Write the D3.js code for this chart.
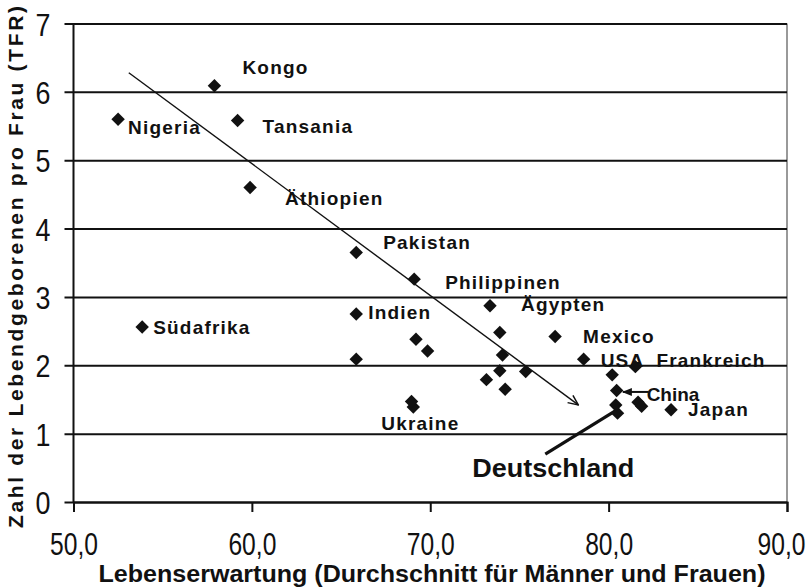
<!DOCTYPE html>
<html>
<head>
<meta charset="utf-8">
<script src="https://cdn.jsdelivr.net/npm/d3@7"></script>
<style>
  body { margin: 0; background: #fff; }
  svg { display: block; font-family: "Liberation Sans", Arial, sans-serif; }
</style>
</head>
<body>
<svg width="810" height="587"></svg>
<script>
// countries (empty name = unlabelled point)
const countries = ['Kongo', 'Nigeria', 'Tansania', 'Äthiopien', 'Pakistan', 'Philippinen', 'Ägypten',
  'Indien', 'Südafrika', 'Mexico', 'USA', 'Frankreich', 'China', 'Japan', 'Ukraine', 'Deutschland',
  '', '', '', '', '', '', '', '', '', '', '', '', '', '']
const lifeExpectancy = [57.9, 52.5, 59.2, 59.9, 65.85, 69.1, 73.35, 65.85, 53.85, 77.0, 78.6, 81.5, 80.45, 83.5, 69.05, 80.5,
  68.95, 80.4, 73.9, 74.05, 73.9, 73.15, 75.35, 74.2, 69.2, 69.85, 65.85, 80.2, 81.65, 81.85]
const fertility = [6.09, 5.60, 5.58, 4.60, 3.65, 3.26, 2.87, 2.75, 2.56, 2.42, 2.09, 1.98, 1.63, 1.35, 1.39, 1.30,
  1.47, 1.42, 2.48, 2.15, 1.92, 1.79, 1.91, 1.65, 2.38, 2.21, 2.09, 1.86, 1.46, 1.40]

const xTicks = [50, 60, 70, 80, 90]
const yTicks = [0, 1, 2, 3, 4, 5, 6, 7]
const trendArrow = [[53.1, 6.28], [78.3, 1.42]]
const chinaArrow = [[82.25, 1.61], [80.8, 1.61]]
const germanyLine = [[76.45, 0.70], [80.35, 1.33]]

const xTitle = 'Lebenserwartung (Durchschnitt für Männer und Frauen)'
const yTitle = 'Zahl der Lebendgeborenen pro Frau (TFR)'

// label offsets in px from the point
const labelOffset = {
  'Kongo': [28, -12], 'Nigeria': [10, 15], 'Tansania': [25, 12], 'Äthiopien': [35, 17],
  'Pakistan': [27, -3], 'Philippinen': [31, 10], 'Ägypten': [31, 5], 'Indien': [12, 5],
  'Südafrika': [11, 7], 'Mexico': [28, 6], 'USA': [17, 8], 'Frankreich': [21, 0],
  'China': [30, 10], 'Japan': [17, 6], 'Ukraine': [-32, 23]
}

const svg = d3.select('svg')
const margin = { top: 23.5, right: 23, bottom: 85, left: 73.5 }
const width = +svg.attr('width') - margin.left - margin.right
const height = +svg.attr('height') - margin.top - margin.bottom

const x = d3.scaleLinear().domain([50, 90]).range([0, width])
const y = d3.scaleLinear().domain([0, 7]).range([height, 0])

const g = svg.append('g').attr('transform', `translate(${margin.left},${margin.top})`)

// right border
g.append('line')
  .attr('x1', width).attr('x2', width)
  .attr('y1', 0).attr('y2', height)
  .attr('stroke', '#777').attr('stroke-width', 1.5)

// gridlines + y axis
const yAxis = g.append('g')
  .call(d3.axisLeft(y).tickValues(yTicks).tickSize(-width).tickFormat(d3.format('d')).tickPadding(23))
yAxis.select('.domain').remove()
yAxis.selectAll('.tick line').attr('stroke', '#111').attr('stroke-width', 2).attr('x1', -9)
yAxis.selectAll('.tick text')
  .attr('font-size', 32).attr('fill', '#111')
  .attr('x', 0).attr('transform', 'translate(-23,0) scale(0.84,1)')
  .attr('dy', '0.36em')

g.append('line')
  .attr('x1', 0).attr('x2', 0).attr('y1', 0).attr('y2', height)
  .attr('stroke', '#111').attr('stroke-width', 2)

// x axis
const xAxis = g.append('g')
  .attr('transform', `translate(0,${height})`)
  .call(d3.axisBottom(x).tickValues(xTicks).tickSize(10).tickFormat(d => d3.format('.1f')(d).replace('.', ',')).tickPadding(20))
xAxis.select('.domain').attr('stroke', '#111').attr('stroke-width', 2)
xAxis.selectAll('.tick line').attr('stroke', '#111').attr('stroke-width', 2)
xAxis.selectAll('.tick text')
  .attr('font-size', 32).attr('fill', '#111')
  .attr('dy', '0.71em')
  .attr('transform', d => `translate(${d === 90 ? -6 : 0},0) scale(0.77,1)`)

// markers
const defs = svg.append('defs')
defs.append('marker')
  .attr('id', 'openArrow').attr('viewBox', '0 0 12 12')
  .attr('refX', 11).attr('refY', 6).attr('markerWidth', 12).attr('markerHeight', 12)
  .attr('markerUnits', 'userSpaceOnUse').attr('orient', 'auto')
  .append('path').attr('d', 'M1,1.5 L11,6 L1,10.5').attr('fill', 'none').attr('stroke', '#111').attr('stroke-width', 1.5)
defs.append('marker')
  .attr('id', 'solidArrow').attr('viewBox', '0 0 10 10')
  .attr('refX', 9).attr('refY', 5).attr('markerWidth', 10).attr('markerHeight', 10)
  .attr('markerUnits', 'userSpaceOnUse').attr('orient', 'auto')
  .append('path').attr('d', 'M0,1 L10,5 L0,9 Z').attr('fill', '#111')

const line = d3.line().x(d => x(d[0])).y(d => y(d[1]))

g.append('path').attr('d', line(trendArrow))
  .attr('stroke', '#111').attr('stroke-width', 1.4).attr('fill', 'none')
  .attr('marker-end', 'url(#openArrow)')

g.append('path').attr('d', line(chinaArrow))
  .attr('stroke', '#111').attr('stroke-width', 2).attr('fill', 'none')
  .attr('marker-end', 'url(#solidArrow)')

g.append('path').attr('d', line(germanyLine))
  .attr('stroke', '#111').attr('stroke-width', 3.2).attr('fill', 'none')

// points
const points = countries.map((c, i) => ({ name: c, life: lifeExpectancy[i], tfr: fertility[i] }))
const diamond = d3.symbol().type(d3.symbolSquare).size(90)

g.selectAll('.pt')
  .data(points)
  .enter().append('path')
  .attr('class', 'pt')
  .attr('d', diamond)
  .attr('fill', '#111')
  .attr('transform', d => `translate(${x(d.life)},${y(d.tfr)}) rotate(45)`)

// labels
g.selectAll('.lbl')
  .data(points.filter(d => labelOffset[d.name]))
  .enter().append('text')
  .attr('class', 'lbl')
  .attr('x', d => x(d.life) + labelOffset[d.name][0])
  .attr('y', d => y(d.tfr) + labelOffset[d.name][1])
  .attr('font-size', 19).attr('font-weight', 'bold').attr('fill', '#111')
  .attr('letter-spacing', d => (d.name === 'China' ? 0 : 1.2))
  .text(d => d.name)

g.append('text')
  .attr('x', x(germanyLine[0][0]) - 73).attr('y', y(germanyLine[0][1]) + 23)
  .attr('font-size', 25).attr('font-weight', 'bold').attr('fill', '#111')
  .attr('textLength', 162).attr('lengthAdjust', 'spacingAndGlyphs')
  .text('Deutschland')

// axis titles
svg.append('text')
  .attr('x', 432).attr('y', 582)
  .attr('text-anchor', 'middle')
  .attr('font-size', 23).attr('font-weight', 'bold').attr('fill', '#111')
  .attr('textLength', 667).attr('lengthAdjust', 'spacingAndGlyphs')
  .text(xTitle)

svg.append('text')
  .attr('transform', 'translate(23,267) rotate(-90)')
  .attr('text-anchor', 'middle')
  .attr('font-size', 21).attr('font-weight', 'bold').attr('fill', '#111')
  .attr('textLength', 522).attr('lengthAdjust', 'spacing')
  .text(yTitle)
</script>
</body>
</html>
